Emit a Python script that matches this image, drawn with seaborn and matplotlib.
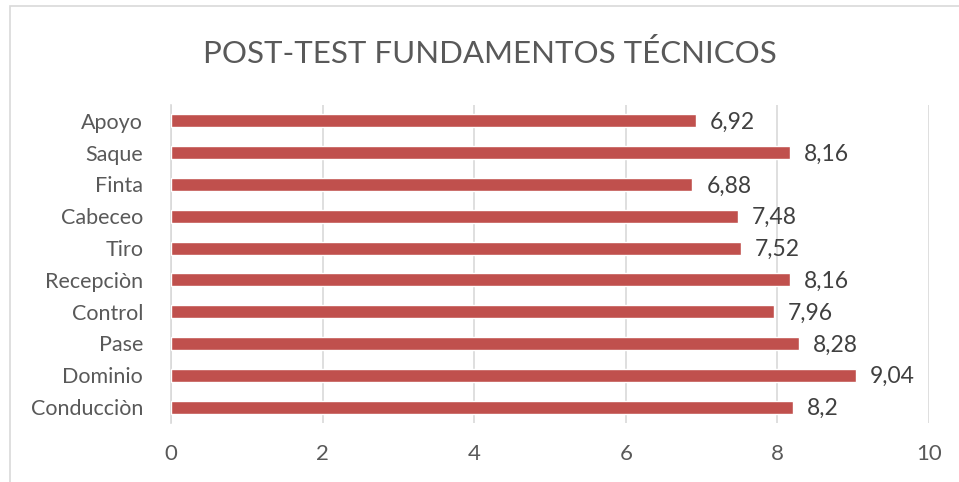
import matplotlib.pyplot as plt
import pandas as pd
import seaborn as sns
from matplotlib.patches import Rectangle

categorias = ["Apoyo", "Saque", "Finta", "Cabeceo", "Tiro", "Recepciòn",
              "Control", "Pase", "Dominio", "Conducciòn"]
puntajes = [6.92, 8.16, 6.88, 7.48, 7.52, 8.16, 7.96, 8.28, 9.04, 8.2]
etiquetas = ["6,92", "8,16", "6,88", "7,48", "7,52", "8,16", "7,96", "8,28", "9,04", "8,2"]
ticks_x = [0, 2, 4, 6, 8, 10]

df = pd.DataFrame({"fundamento": categorias, "puntaje": puntajes})

sns.set_style("white")
plt.rcParams["font.family"] = ["Lato", "DejaVu Sans"]

fig = plt.figure(figsize=(9.59, 4.82), dpi=100)
ax = fig.add_axes([0.1783, 0.1224, 0.7904, 0.6598])

sns.barplot(data=df, y="fundamento", x="puntaje", color="#C0504D",
            width=0.41, saturation=1, ax=ax, zorder=3)

for i, (v, t) in enumerate(zip(puntajes, etiquetas)):
    ax.annotate(t, (v, i), xytext=(10, -1), textcoords="offset points",
                va="center", ha="left", fontsize=16.5, color="#404040")

ax.set_xlim(0, 10)
ax.set_ylim(9.5, -0.5)
ax.set_xticks(ticks_x)
ax.set_xticklabels([str(t) for t in ticks_x])
ax.xaxis.grid(True, color="#D9D9D9", linewidth=1.2, zorder=0)
ax.set_xlabel("")
ax.set_ylabel("")
ax.tick_params(axis="both", length=0, colors="#595959")
ax.tick_params(axis="x", pad=15, labelsize=16)
ax.tick_params(axis="y", pad=20, labelsize=15.5)
for s in ["top", "right", "bottom"]:
    ax.spines[s].set_visible(False)
ax.spines["left"].set_color("#D9D9D9")
ax.spines["left"].set_linewidth(1.2)

fig.text(0.511, 0.888, "POST-TEST FUNDAMENTOS TÉCNICOS", ha="center", va="center",
         fontsize=22.5, color="#595959")

fig.patches.append(Rectangle((10 / 959, -0.1), 1.1, 1 - 6 / 482 + 0.1,
                             transform=fig.transFigure, fill=False,
                             edgecolor="#D9D9D9", linewidth=1.2))

plt.savefig("out.png", dpi=100)
